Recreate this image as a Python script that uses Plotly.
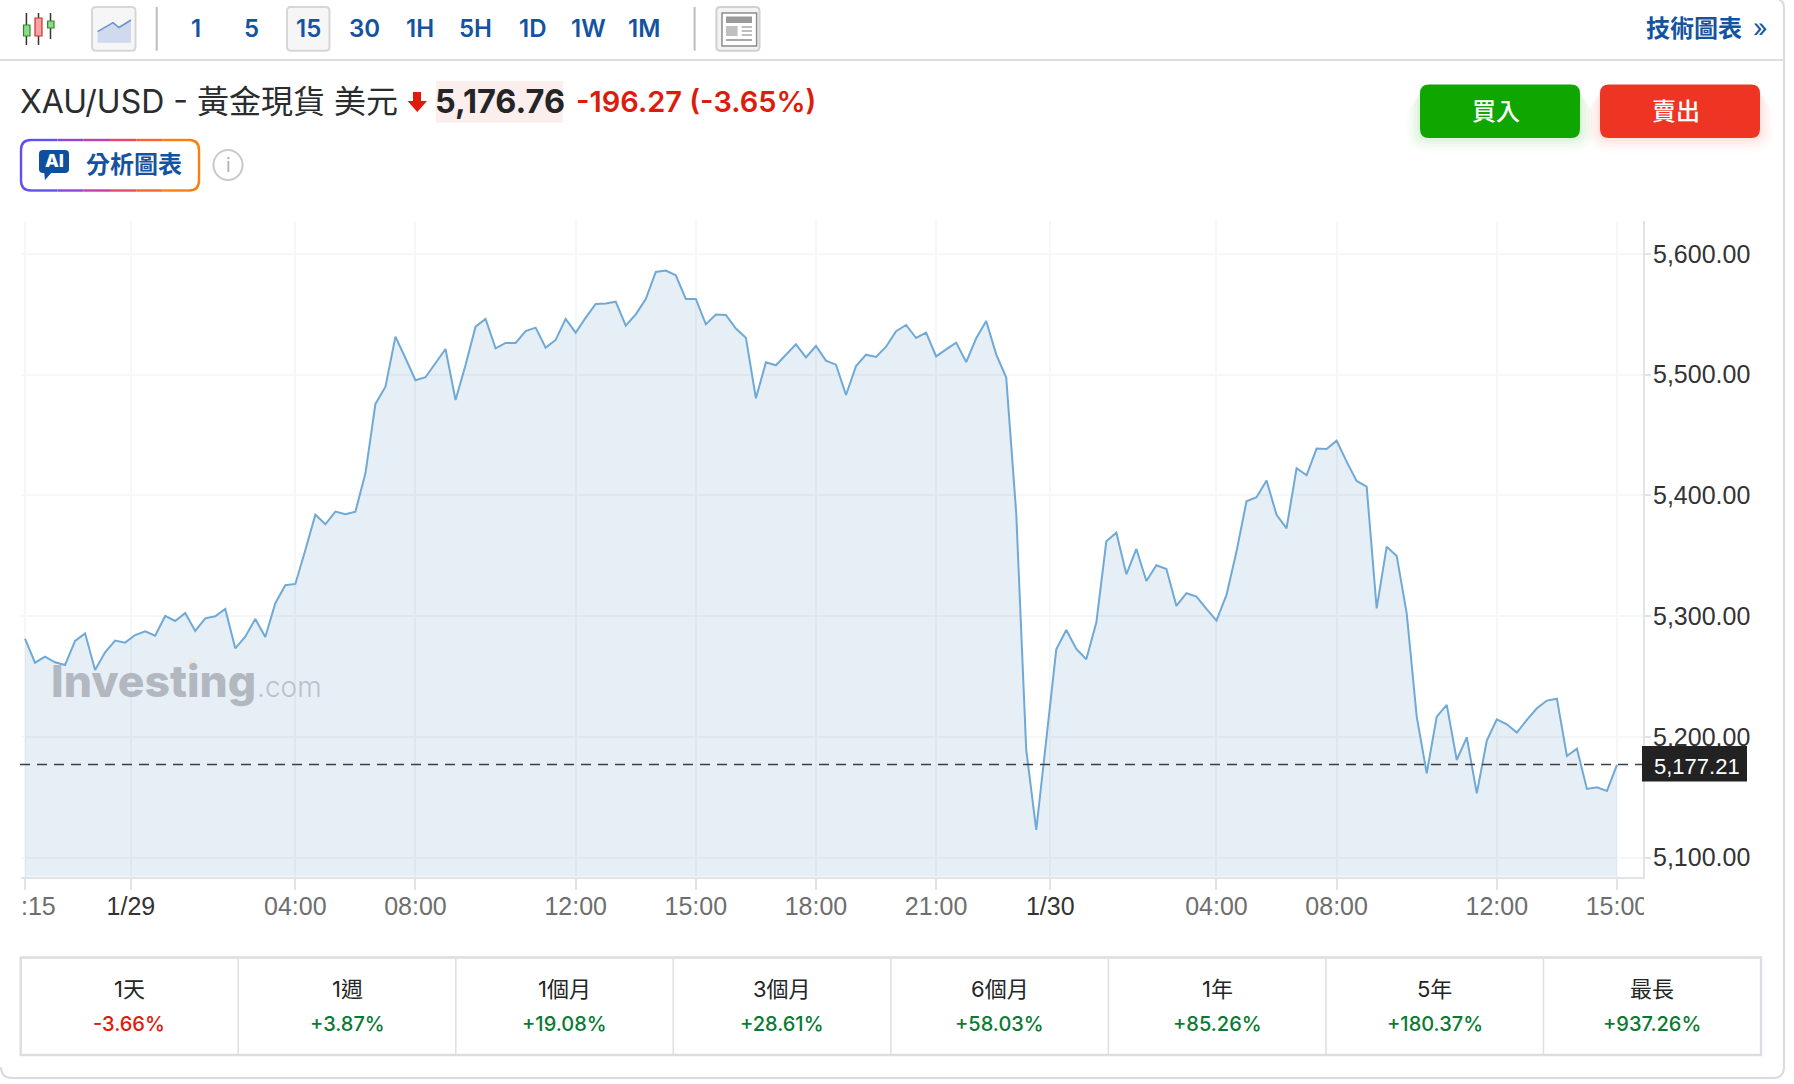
import plotly.graph_objects as go

W, H = 1794, 1084
UI_FONT = "Inter, Noto Sans CJK TC, sans-serif"
AXIS_FONT = "Liberation Sans, Noto Sans CJK TC, sans-serif"

# 15 minute closes
prices = [
    5281.4, 5261.5, 5266.5, 5261.8, 5259.6, 5279.5, 5285.8, 5255.5, 5270.1, 5279.8,
    5278.1, 5284.4, 5287.5, 5283.9, 5300.2, 5296.0, 5302.7, 5287.8, 5298.2, 5299.9,
    5306.0, 5273.4, 5283.0, 5297.7, 5282.8, 5310.7, 5325.6, 5326.7, 5354.8, 5384.1,
    5376.1, 5386.6, 5384.4, 5386.6, 5418.3, 5475.8, 5490.1, 5531.5, 5513.6, 5495.4,
    5497.9, 5510.0, 5521.3, 5479.1, 5508.1, 5539.8, 5546.2, 5521.9, 5526.3, 5526.3,
    5536.2, 5539.0, 5522.4, 5528.8, 5546.2, 5534.8, 5547.3, 5558.6, 5558.9, 5560.5,
    5540.7, 5550.0, 5562.7, 5585.1, 5586.2, 5582.3, 5562.7, 5562.7, 5541.7, 5549.8,
    5549.5, 5538.2, 5530.7, 5480.5, 5510.3, 5507.8, 5516.9, 5525.2, 5514.4, 5523.8,
    5511.7, 5508.3, 5483.2, 5507.2, 5516.6, 5514.7, 5523.2, 5536.0, 5541.2, 5530.4,
    5534.8, 5515.2, 5521.0, 5526.6, 5510.5, 5530.2, 5544.5, 5516.9, 5497.6, 5385.2,
    5189.2, 5123.0, 5197.5, 5272.6, 5288.6, 5272.9, 5264.3, 5294.7, 5362.0, 5369.2,
    5334.7, 5355.7, 5329.2, 5342.2, 5339.1, 5308.5, 5319.0, 5316.2, 5306.0, 5296.3,
    5317.6, 5353.5, 5395.2, 5398.5, 5412.3, 5383.9, 5372.8, 5422.5, 5416.7, 5438.8,
    5438.5, 5445.4, 5428.0, 5412.0, 5407.3, 5306.5, 5357.6, 5349.9, 5302.4, 5216.8,
    5169.9, 5216.8, 5226.5, 5180.9, 5199.7, 5153.3, 5196.9, 5214.6, 5210.5, 5203.6,
    5214.1, 5223.7, 5230.1, 5231.7, 5184.2, 5190.3, 5156.9, 5158.3, 5155.3, 5176.8,
]
bar_index = list(range(len(prices)))
current_price = 5177.21

y_ticks = [5100, 5200, 5300, 5400, 5500, 5600]
x_tick_index = [0, 10.58, 27, 39, 55, 67, 79, 91, 102.4, 119, 131, 147, 159]
x_tick_text = ["", "1/29", "04:00", "08:00", "12:00", "15:00", "18:00", "21:00",
               "1/30", "04:00", "08:00", "12:00", "15:00"]

intervals = ["1", "5", "15", "30", "1H", "5H", "1D", "1W", "1M"]
period_names = ["1天", "1週", "1個月", "3個月", "6個月", "1年", "5年", "最長"]
period_changes = ["-3.66%", "+3.87%", "+19.08%", "+28.61%", "+58.03%", "+85.26%", "+180.37%", "+937.26%"]


def fx(x):
    return x / W


def fy(y):
    return 1 - y / H


def path(points, close=False):
    s = "M" + " L".join(f"{fx(x):.5f},{fy(y):.5f}" for x, y in points)
    return s + (" Z" if close else "")


def rrect(x0, y0, x1, y1, r):
    p = (f"M{fx(x0 + r):.5f},{fy(y0):.5f} L{fx(x1 - r):.5f},{fy(y0):.5f} "
         f"Q{fx(x1):.5f},{fy(y0):.5f} {fx(x1):.5f},{fy(y0 + r):.5f} "
         f"L{fx(x1):.5f},{fy(y1 - r):.5f} Q{fx(x1):.5f},{fy(y1):.5f} {fx(x1 - r):.5f},{fy(y1):.5f} "
         f"L{fx(x0 + r):.5f},{fy(y1):.5f} Q{fx(x0):.5f},{fy(y1):.5f} {fx(x0):.5f},{fy(y1 - r):.5f} "
         f"L{fx(x0):.5f},{fy(y0 + r):.5f} Q{fx(x0):.5f},{fy(y0):.5f} {fx(x0 + r):.5f},{fy(y0):.5f} Z")
    return p


fig = go.Figure()
fig.add_trace(go.Scatter(x=bar_index, y=prices, mode="lines", fill="tozeroy",
                         line=dict(color="#70a9d6", width=2),
                         fillcolor="rgba(30,110,170,0.11)", hoverinfo="skip"))

shapes = []
notes = []


def box(x0, y0, x1, y1, fill=None, line=None, width=1.5, r=0, layer="below", opacity=1):
    shapes.append(dict(type="path", path=rrect(x0, y0, x1, y1, r), xref="paper", yref="paper",
                       fillcolor=fill or "rgba(0,0,0,0)", layer=layer, opacity=opacity,
                       line=dict(color=line or "rgba(0,0,0,0)", width=width if line else 0)))


def stroke(points, color, width=1.5, layer="below"):
    shapes.append(dict(type="path", path=path(points), xref="paper", yref="paper", layer=layer,
                       line=dict(color=color, width=width)))


def blob(points, fill, layer="below"):
    shapes.append(dict(type="path", path=path(points, True), xref="paper", yref="paper", layer=layer,
                       fillcolor=fill, line=dict(width=0)))


def note(x, y, text, size, color, weight=400, anchor="center", family=UI_FONT):
    notes.append(dict(x=fx(x), y=fy(y), xref="paper", yref="paper", text=text, showarrow=False,
                      xanchor=anchor, yanchor="middle", align=anchor,
                      font=dict(size=size, color=color, family=family, weight=weight)))


# outer card and toolbar rule
shapes.append(dict(type="path", xref="paper", yref="paper", layer="below",
                   path=(f"M{fx(1):.5f},{fy(1067):.5f} Q{fx(1):.5f},{fy(1078):.5f} {fx(12):.5f},{fy(1078):.5f} "
                         f"L{fx(1773):.5f},{fy(1078):.5f} Q{fx(1784):.5f},{fy(1078):.5f} {fx(1784):.5f},{fy(1067):.5f} "
                         f"L{fx(1784):.5f},{fy(8):.5f} Q{fx(1784):.5f},{fy(1):.5f} {fx(1779):.5f},{fy(0):.5f}"),
                   line=dict(color="#d9dbde", width=2)))
stroke([(0, 60), (1784, 60)], "#dcdddf", 2)

# candle icon
for wick_x, y0, y1 in [(26.4, 13, 45), (38.5, 13, 45), (50.5, 13, 39)]:
    stroke([(wick_x, y0), (wick_x, y1)], "#333333", 1.5)
box(23.5, 25, 30, 36, fill="#8fd98a", line="#2e8b2e", width=1.2)
box(35, 18, 42, 36, fill="#f6a3a3", line="#c9302c", width=1.2)
box(47.6, 21, 54, 28, fill="#8fd98a", line="#2e8b2e", width=1.2)

# area icon button
box(92, 7, 135.5, 50.7, fill="#f6f6f6", line="#d6d6d6", width=2, r=4)
blob([(97.6, 31.7), (113, 22.7), (119, 27.5), (131, 20), (131, 42.7), (97.6, 42.7)], "#cfdaee")
stroke([(97.6, 31.7), (113, 22.7), (119, 27.5), (131, 20)], "#6a92c8", 1.5)

stroke([(156.7, 7), (156.7, 50.7)], "#bdbdbd", 2)
stroke([(694.6, 7), (694.6, 50.7)], "#bdbdbd", 2)

# interval buttons
box(287, 7, 329.5, 50.7, fill="#f6f6f6", line="#d6d6d6", width=2, r=4)
interval_x = [196, 251.4, 308, 364, 419.6, 475, 532, 588, 644]
for label, xpos in zip(intervals, interval_x):
    note(xpos, 28.5, label, 24, "#13539f", 600)

# news icon
box(716.4, 7, 759.5, 50.7, fill="#f3f3f3", line="#d0d0d0", width=2, r=4)
box(722, 13, 756.6, 46, fill="#ffffff", line="#8c8c8c", width=1.5)
box(726, 16.5, 752, 23, fill="#9a9a9a")
box(726, 26, 737.6, 36, fill="#c0c0c0")
for line_y in [27, 31, 35]:
    stroke([(741.7, line_y), (752, line_y)], "#a8a8a8", 1.5)
stroke([(726, 40), (752, 40)], "#a8a8a8", 2)

note(1694, 28.5, "技術圖表", 24, "#13539f", 700)
note(1760, 28, "»", 25, "#13539f", 400)

# headline
note(18, 102, "XAU/USD - 黃金現貨 美元", 32, "#2a2c2e", 400, "left")
blob([(413, 92), (421, 92), (421, 101), (427, 101), (417.3, 112), (407.6, 101), (413, 101)], "#e0190b")
box(436, 81, 563, 122.7, fill="#fdeeee")
note(500, 102, "5,176.76", 32.5, "#232526", 700)
note(574, 102, "-196.27 (-3.65%)", 29, "#dd1c0c", 600, "left")

# buy / sell buttons with a soft glow below
for pad, alpha in [(15, 0.012), (12, 0.018), (9, 0.025), (6, 0.03), (3, 0.04)]:
    box(1420 - pad, 85 + pad, 1580 + pad, 138 + pad, fill=f"rgba(14,166,0,{alpha})", r=10 + pad)
    box(1600 - pad, 85 + pad, 1760 + pad, 138 + pad, fill=f"rgba(238,53,36,{alpha})", r=10 + pad)
box(1420, 84.5, 1580, 138, fill="#0fa600", r=9)
box(1600, 84.5, 1760, 138, fill="#ee3524", r=9)
note(1496, 111.5, "買入", 24, "#ffffff", 500)
note(1676, 111.5, "賣出", 24, "#ffffff", 500)

# AI button: gradient border made of short segments
grad = ["#5f50f2", "#8f45d6", "#c23fa6", "#ee4468", "#f8632e", "#fc7f0c"]
bx0, by0, bx1, by1 = 21, 140, 199, 190.5
step = (bx1 - bx0 - 20) / len(grad)
for k, col in enumerate(grad):
    a, b = bx0 + 10 + k * step, bx0 + 10 + (k + 1) * step
    stroke([(a, by0), (b, by0)], col, 2.4)
    stroke([(a, by1), (b, by1)], col, 2.4)
shapes.append(dict(type="path", xref="paper", yref="paper", layer="below", line=dict(color=grad[0], width=2.4),
                   path=(f"M{fx(bx0 + 10):.5f},{fy(by0):.5f} Q{fx(bx0):.5f},{fy(by0):.5f} {fx(bx0):.5f},{fy(by0 + 10):.5f} "
                         f"L{fx(bx0):.5f},{fy(by1 - 10):.5f} Q{fx(bx0):.5f},{fy(by1):.5f} {fx(bx0 + 10):.5f},{fy(by1):.5f}")))
shapes.append(dict(type="path", xref="paper", yref="paper", layer="below", line=dict(color=grad[-1], width=2.4),
                   path=(f"M{fx(bx1 - 10):.5f},{fy(by0):.5f} Q{fx(bx1):.5f},{fy(by0):.5f} {fx(bx1):.5f},{fy(by0 + 10):.5f} "
                         f"L{fx(bx1):.5f},{fy(by1 - 10):.5f} Q{fx(bx1):.5f},{fy(by1):.5f} {fx(bx1 - 10):.5f},{fy(by1):.5f}")))
box(39, 150, 69, 173, fill="#0f4f9e", r=4)
blob([(44, 171), (53, 171), (45, 180)], "#0f4f9e")
note(54, 161, "AI", 18, "#ffffff", 800)
note(134, 164.5, "分析圖表", 24, "#13539f", 700)
shapes.append(dict(type="circle", xref="paper", yref="paper", layer="below",
                   x0=fx(213.5), x1=fx(242.5), y0=fy(150), y1=fy(180), line=dict(color="#c9c9c9", width=2)))
note(228, 165.5, "i", 19, "#b4b4b4", 400)

# chart watermark
note(48.5, 681, "Investing", 44.5, "#b3b8c0", 800, "left")
note(255, 687, ".com", 28, "#bcc1c8", 300, "left")
blob([(189, 661), (196, 659), (196, 666), (187.5, 669)], "#efe6d6", layer="above")

# the first time label is cut by the chart edge, the last one by the price scale
note(18.5, 906, ":15", 25, "#6e6e6e", family=AXIS_FONT, anchor="left")
box(1644, 885, 1700, 930, fill="#ffffff", layer="above")

# current price line and tag
shapes.append(dict(type="line", xref="paper", yref="y", x0=fx(20), x1=fx(1642), y0=current_price, y1=current_price,
                   layer="above", line=dict(color="#3a3f47", width=1.5, dash="10px,7px")))
box(1642, 746, 1747, 781.5, fill="#222222", layer="above")
note(1697, 766, f"{current_price:,.2f}", 22, "#ffffff", 400, family=AXIS_FONT)

# period table
t_left, t_right, t_top, t_bottom = 20.7, 1761, 957.5, 1055
col_w = (t_right - t_left) / len(period_names)
box(t_left, t_top, t_right, t_bottom, line="#dcdde2", width=2.4)
for i, (name, change) in enumerate(zip(period_names, period_changes)):
    if i:
        stroke([(t_left + i * col_w, t_top), (t_left + i * col_w, t_bottom)], "#dfe0e4", 1.6)
    mid = t_left + (i + 0.5) * col_w
    note(mid, 989, name, 22, "#232526", 400)
    note(mid, 1024, change, 20, "#e3170a" if change.startswith("-") else "#0a7a32", 500)

fig.update_layout(
    width=W, height=H, autosize=False, margin=dict(l=0, r=0, t=0, b=0),
    paper_bgcolor="#ffffff", plot_bgcolor="#ffffff", showlegend=False,
    shapes=shapes, annotations=notes, font=dict(family=AXIS_FONT),
)
fig.update_xaxes(domain=[fx(20.7), fx(1643)], range=[-0.43, 161.6], tickmode="array",
                 tickvals=x_tick_index, automargin=False,
                 ticktext=[f'<span style="color:#333333">{t}</span>' if "/" in t else t for t in x_tick_text],
                 tickangle=0, ticks="outside", ticklen=11, tickcolor="#e0e3e8", tickwidth=1.5,
                 ticklabelstandoff=-5,
                 showline=True, linecolor="#e0e3e8", linewidth=2, showgrid=True, gridcolor="#f6f7f8", gridwidth=1.5,
                 zeroline=False, tickfont=dict(size=25, color="#6e6e6e", family=AXIS_FONT))
fig.update_yaxes(domain=[fy(876.5), fy(221)], range=[5084.4, 5627.3], side="right", tickmode="array",
                 tickvals=y_ticks, tickformat=",.2f", ticks="outside", ticklen=6, tickcolor="#e0e3e8", tickwidth=1.5,
                 automargin=False, ticklabelstandoff=-3,
                 showline=True, linecolor="#e0e3e8", linewidth=2, showgrid=True, gridcolor="#f6f7f8", gridwidth=1.5,
                 zeroline=False, tickfont=dict(size=25, color="#333333", family=AXIS_FONT))

fig.write_html("out.html", config=dict(displayModeBar=False),
               post_script="document.body.style.margin='0';")
